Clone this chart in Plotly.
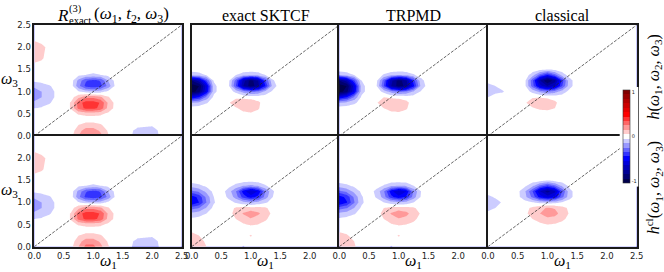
import numpy as np
import plotly.graph_objects as go

# ---------------- data (values x100) ----------------
W1 = [0, 0.125, 0.25, 0.375, 0.5, 0.625, 0.75, 0.875, 1.0, 1.125, 1.25, 1.375, 1.5, 1.75, 2.0, 2.25, 2.5]
W3 = [0, 0.125, 0.25, 0.375, 0.5, 0.625, 0.75, 0.875, 1.0, 1.125, 1.25, 1.375, 1.5, 1.625, 1.75, 2.0, 2.25, 2.5]

# R^(3)_exact  (same in both rows)
Z_R = [
    [0, 0, 0, 0, 0, 2, 15, 28, 28, 18, 6, 0, 0, -8, -9],
    [0, 0, 0, 0, 0, 0, 11, 20, 20, 13, 4, 0, 0, -7, -8],
    [0, 0, 0, 0, 0, 0, 5, 9, 9, 6, 1, 0, 0, -3, -4],
    [],
    [0, 0, 0, 0, 0, 1, 6, 8, 8, 7, 3],
    [-5, -4, -2, 0, 0, 6, 28, 38, 38, 32, 12, 2],
    [-12, -9, -6, -2, 0, 6, 30, 40, 40, 34, 14, 2],
    [-22, -15, -10, -3, 0, 1, 12, 22, 22, 17, 6, 0],
    [-22, -15, -10, -3, 0, 0, -4, -10, -12, -10, -3],
    [-12, -9, -6, -2, 0, 0, -22, -38, -42, -38, -22, -3],
    [-3, -2, -1, 0, 0, 0, -18, -34, -38, -34, -15, -2],
    [0, 0, 0, 0, 0, 0, -3, -5, -7, -5, -3],
    [2, 1],
    [4, 3],
    [9, 6, 2],
    [10, 7, 3],
    [1],
    [],
]

# h  exact SKTCF
Z_H_EX = [
    [0, 0, 0, 0, 0, 0, 0, -6],
    [], [], [],
    [0, 0, 0, 0, 0, 0, 0, 3, 4, 2],
    [0, 0, 0, 0, 0, 0, 4, 8, 9, 6],
    [-15, -12, -6, 0, 0, 4, 10, 12, 11, 7],
    [-55, -45, -22, -2, 0, 2, 3, 2, 1],
    [-100, -90, -55, -8, 0, 0, -8, -20, -28, -25, -12, -3],
    [-100, -95, -60, -8, 0, -3, -35, -75, -90, -80, -45, -10],
    [-85, -70, -35, -4, 0, -2, -30, -70, -90, -75, -35, -6],
    [-12, -9, -4, 0, 0, 0, -5, -10, -12, -10, -5],
    [], [], [], [], [], [],
]

# h  TRPMD
Z_H_TR = [
    [0, 0, 0, 0, 0, 0, 0, -6],
    [], [], [],
    [0, 0, 0, 0, 0, 0, 0, 2, 3, 2],
    [0, 0, 0, 0, 0, 0, 5, 9, 9, 6],
    [-15, -12, -7, -1, 0, 4, 11, 13, 12, 8],
    [-55, -45, -24, -3, 0, 3, 5, 3, 2],
    [-100, -90, -55, -9, 0, 0, -8, -20, -28, -25, -14, -4],
    [-100, -95, -60, -9, 0, -4, -35, -75, -90, -82, -48, -12],
    [-85, -70, -36, -5, 0, -2, -30, -72, -90, -78, -40, -8],
    [-14, -10, -5, 0, 0, 0, -6, -11, -14, -11, -6, -1],
    [], [], [], [], [], [],
]

# h  classical
Z_H_CL = [
    [], [], [], [], [],
    [0, 0, 0, 0, 0, 0, 4, 7, 8, 5],
    [0, 0, 0, 0, 0, 4, 10, 12, 11, 7],
    [-5, 0, 0, 0, 0, 2, 4, 4, 3, 1],
    [-12, -8, -6, 0, 0, 0, -8, -18, -25, -20, -10, -2],
    [-8, -5, -1, 0, 0, -3, -30, -60, -75, -65, -35, -8],
    [-2, 0, 0, 0, 0, -3, -32, -75, -95, -80, -40, -8],
    [0, 0, 0, 0, 0, 0, -10, -30, -45, -30, -10, -1],
    [0, 0, 0, 0, 0, 0, 0, -2, -4, -2],
    [], [], [], [], [],
]

# h^cl  exact SKTCF
Z_HCL_EX = [
    [10, 8, 5, 0, 0, 0, 0, -6],
    [9, 7, 4],
    [8, 5, 1, 0, 0, 0, 0, 0, 6],
    [3, 1],
    [0, 0, 0, 0, 0, 0, 0, 4, 6, 5, 3],
    [-3, -2, 0, 0, 0, 0, 5, 9, 14, 10, 6, 2],
    [-12, -9, -5, 0, 0, 2, 8, 16, 22, 17, 9, 3],
    [-30, -25, -14, -2, 0, 2, 6, 8, 8, 8, 6, 2],
    [-55, -45, -25, -6, 0, -2, -6, -12, -16, -12, -6, -2],
    [-50, -42, -22, -5, 0, -7, -20, -40, -50, -42, -20, -5],
    [-28, -22, -12, -2, 0, -10, -25, -50, -65, -55, -25, -6],
    [-10, -7, -3, 0, 0, -2, -8, -15, -18, -14, -6, -1],
    [], [], [], [], [], [],
]

# h^cl  TRPMD
Z_HCL_TR = [
    [12, 9, 6, 1, 0, 0, 0, -6],
    [10, 8, 5],
    [8, 6, 2, 0, 0, 0, 0, 0, 6],
    [3, 2],
    [0, 0, 0, 0, 0, 0, 1, 4, 6, 5, 3],
    [-3, -2, -1, 0, 0, 0, 5, 10, 14, 12, 7, 2],
    [-13, -10, -6, -1, 0, 1, 8, 16, 22, 18, 10, 4],
    [-30, -26, -15, -3, 0, 1, 5, 8, 9, 8, 6, 2],
    [-56, -46, -26, -7, 0, -1, -5, -10, -14, -11, -5, -1],
    [-50, -42, -23, -6, 0, -6, -20, -42, -52, -44, -20, -4],
    [-28, -22, -12, -3, 0, -8, -24, -52, -66, -56, -24, -5],
    [-10, -7, -3, 0, 0, -1, -6, -13, -15, -12, -5],
    [], [], [], [], [], [],
]

# h^cl  classical
Z_HCL_CL = [
    [], [], [], [],
    [0, 0, 0, 0, 0, 0, 0, 3, 5, 4, 2],
    [0, 0, 0, 0, 0, 0, 5, 9, 12, 11, 7, 2],
    [-3, 0, 0, 0, 0, 3, 9, 15, 22, 19, 10, 4],
    [-8, -5, -2, 0, 0, 2, 7, 12, 16, 14, 8, 3],
    [-12, -8, -4, 0, 0, -1, -4, -8, -10, -8, -4, -1],
    [-7, -4, -1, 0, -2, -12, -28, -50, -60, -52, -28, -8],
    [-1, 0, 0, 0, -2, -14, -35, -65, -80, -68, -35, -8],
    [0, 0, 0, 0, 0, -3, -12, -28, -38, -28, -12, -2],
    [0, 0, 0, 0, 0, 0, 0, 0, -3],
    [], [], [], [], [],
]

COL_TITLES = ["exact SKTCF", "TRPMD", "classical"]
ROW_LABELS = ["<i>h</i>(<i>ω</i><sub>1</sub>, <i>ω</i><sub>2</sub>, <i>ω</i><sub>3</sub>)",
              "<i>h</i><sup>cl</sup>(<i>ω</i><sub>1</sub>, <i>ω</i><sub>2</sub>, <i>ω</i><sub>3</sub>)"]
TICKS_FULL = [0, 0.5, 1.0, 1.5, 2.0, 2.5]
TICKS_CUT = [0, 0.5, 1.0, 1.5, 2.0]

PANELS = [[Z_R, Z_H_EX, Z_H_TR, Z_H_CL],
          [Z_R, Z_HCL_EX, Z_HCL_TR, Z_HCL_CL]]


def grid(rows):
    return np.array([r + [0] * (len(W1) - len(r)) for r in rows], dtype=float) / 100.0


# ---------------- colours (matplotlib "seismic") ----------------
SEIS = [(0.0, 0.0, 0.3), (0.0, 0.0, 1.0), (1.0, 1.0, 1.0), (1.0, 0.0, 0.0), (0.5, 0.0, 0.0)]


def seismic(t):
    t = min(max(t, 0.0), 1.0) * 4
    i = min(int(t), 3)
    f = t - i
    a, b = SEIS[i], SEIS[i + 1]
    c = [round(255 * (a[k] + (b[k] - a[k]) * f)) for k in range(3)]
    return "rgb(%d,%d,%d)" % tuple(c)


NB = 21
CS = []
for k in range(NB):
    col = seismic(k / (NB - 1))
    CS.append([k / NB, col])
    CS.append([(k + 1) / NB, col])

# ---------------- layout geometry (pixels) ----------------
W, H = 664, 272
COLS_PX = [(34.3, 181.7), (191.7, 339.3), (339.3, 487.9), (487.9, 636.7)]
ROWS_PX = [(25, 136), (136, 246.7)]


def px(x):
    return x / W


def py(y):
    return 1 - y / H


fig = go.Figure()
layout = dict(template="none", width=W, height=H, margin=dict(l=0, r=0, t=0, b=0, pad=0),
              autosize=False, paper_bgcolor="white", plot_bgcolor="white", showlegend=False,
              font=dict(family="DejaVu Sans", color="#222"))

n = 0
for r in range(2):
    for c in range(4):
        n += 1
        xa, ya = "x%d" % n, "y%d" % n
        fig.add_trace(go.Contour(
            x=W1, y=W3, z=grid(PANELS[r][c]), xaxis=xa, yaxis=ya,
            autocontour=False,
            contours=dict(start=-0.95, end=0.95, size=0.1, coloring="fill", showlines=False),
            line=dict(width=0, smoothing=0),
            colorscale=CS, zmin=-1.05, zmax=1.05, zauto=False,
            showscale=(n == 1), hoverinfo="skip",
            colorbar=dict(x=px(619.5), xanchor="left", y=py(136.5), yanchor="middle",
                          len=99 / H, lenmode="fraction", thickness=7, thicknessmode="pixels",
                          xpad=3, ypad=3, outlinewidth=0.6, outlinecolor="#333",
                          bgcolor="white", ticks="", tickvals=[-1, 0, 1], ticktext=["-1", "0", "1"],
                          tickfont=dict(size=5, family="DejaVu Sans", color="#222")),
        ))
        fig.add_trace(go.Scatter(
            x=[W1[0], W1[-1]], y=[W3[0], W3[-1]], xaxis=xa, yaxis=ya, mode="lines",
            line=dict(color="#222", width=0.7, dash="3px,1.5px"), hoverinfo="skip"))
        x0, x1 = COLS_PX[c]
        y0, y1 = ROWS_PX[r]
        xt = TICKS_CUT if c in (1, 2) else TICKS_FULL
        yt = TICKS_FULL if r == 0 else TICKS_CUT
        common = dict(range=[0, 2.5], showgrid=False, zeroline=False, showline=True, mirror=True,
                      linecolor="#1a1a1a", linewidth=1.6, ticks="", automargin=False,
                      tickfont=dict(family="DejaVu Sans", size=8.5, color="#222"))
        layout["xaxis%d" % n] = dict(common, domain=[px(x0), px(x1)], anchor=ya,
                                     tickvals=xt, ticktext=["%.1f" % v for v in xt],
                                     showticklabels=(r == 1))
        layout["yaxis%d" % n] = dict(common, domain=[py(y1), py(y0)], anchor=xa,
                                     tickvals=yt, ticktext=["%.1f" % v for v in yt],
                                     showticklabels=(c == 0))

SERIF = "Liberation Serif"
ann = []
# title panel 1: R^(3)_exact(w1, t2, w3)
ann.append(dict(text="<i>R</i>", x=px(55), y=py(15), xanchor="left", yanchor="middle",
                font=dict(family=SERIF, size=17, color="black")))
ann.append(dict(text="(3)", x=px(66.5), y=py(9), xanchor="left", yanchor="middle",
                font=dict(family=SERIF, size=10.5, color="black")))
ann.append(dict(text="exact", x=px(66.5), y=py(21), xanchor="left", yanchor="middle",
                font=dict(family=SERIF, size=10.5, color="black")))
ann.append(dict(text="(<i>ω</i><sub>1</sub>, <i>t</i><sub>2</sub>, <i>ω</i><sub>3</sub>)",
                x=px(92), y=py(15), xanchor="left", yanchor="middle",
                font=dict(family=SERIF, size=17, color="black")))
for c, t in enumerate(COL_TITLES):
    x0, x1 = COLS_PX[c + 1]
    ann.append(dict(text=t, x=px((x0 + x1) / 2), y=py(15), xanchor="center", yanchor="middle",
                    font=dict(family=SERIF, size=16, color="black")))
for c in range(4):
    x0, x1 = COLS_PX[c]
    ann.append(dict(text="<i>ω</i><sub>1</sub>", x=px((x0 + x1) / 2), y=py(261.5), xanchor="center",
                    yanchor="middle", font=dict(family=SERIF, size=16, color="black")))
for r in range(2):
    y0, y1 = ROWS_PX[r]
    ann.append(dict(text="<i>ω</i><sub>3</sub>", x=px(9.5), y=py((y0 + y1) / 2 - 1), xanchor="center",
                    yanchor="middle", font=dict(family=SERIF, size=16, color="black")))
    ann.append(dict(text=ROW_LABELS[r], x=px(654), y=py((y0 + y1) / 2 - 3), xanchor="center",
                    yanchor="middle", textangle=-90, font=dict(family=SERIF, size=16, color="black")))
for a in ann:
    a.update(xref="paper", yref="paper", showarrow=False)
layout["annotations"] = ann

fig.update_layout(**layout)
fig.write_html("out.html", config={"displayModeBar": False},
               post_script="document.body.style.margin='0px';document.body.style.padding='0px';")
